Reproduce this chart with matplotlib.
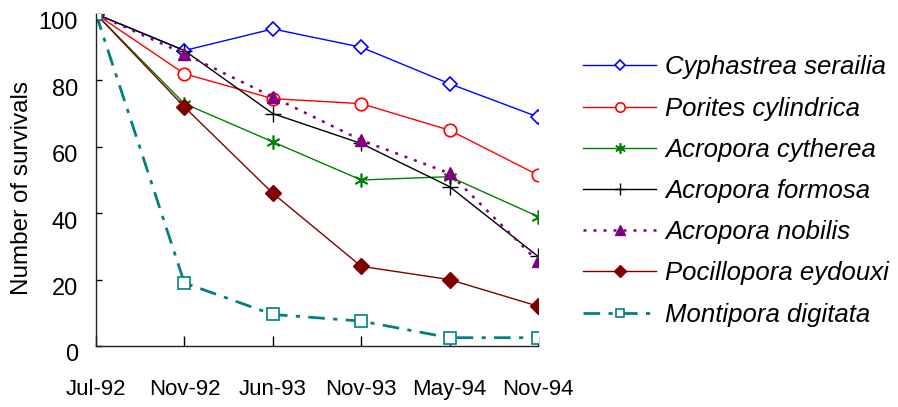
import numpy as np
import matplotlib
matplotlib.use("Agg")
import matplotlib.pyplot as plt
import matplotlib.transforms as mtransforms

plt.rcParams['font.family'] = ['Liberation Sans', 'DejaVu Sans']

# dates on the x axis
months = ['Jul-92', 'Nov-92', 'Jun-93', 'Nov-93', 'May-94', 'Nov-94']

# number of survivals
cyphastrea = [100, 89, 95.5, 90, 79, 69]
porites = [100, 82, 74.5, 73, 65, 51.5]
acro_cytherea = [100, 73, 61.5, 50, 51, 39]
acro_formosa = [100, 89, 70, 61, 48, 27]
acro_nobilis = [100, 88, 75, 62, 52, 25.5]
pocillopora = [100, 72, 46, 24, 20, 12]
montipora = [100, 19, 9.5, 7.5, 2.5, 2.5]

fig = plt.figure(figsize=(8.98, 4.07), dpi=100)
ax = fig.add_axes([96 / 898, 1 - 346 / 407, 442 / 898, 332 / 407])

ax.plot(months, cyphastrea, color='#0000ff', lw=1.0, marker='D', ms=7,
        mfc='white', mec='#0000ff', mew=1.2, label='Cyphastrea serailia')
ax.plot(months, porites, color='#ff0000', lw=1.0, marker='o', ms=9,
        mfc='white', mec='#ff0000', mew=1.2, label='Porites cylindrica')
ax.plot(months, acro_cytherea, color='#008000', lw=1.0, marker=(6, 2, 0), ms=10,
        mec='#008000', mew=1.2, label='Acropora cytherea')
ax.plot(months, acro_formosa, color='black', lw=1.0, marker='+', ms=11,
        mec='black', mew=1.0, label='Acropora formosa')
ax.plot(months, acro_nobilis, color='#800080', lw=1.8, ls=(0, (1.2, 2.8)),
        marker='^', ms=9, mfc='#800080', mec='#800080', label='Acropora nobilis')
ax.plot(months, pocillopora, color='#800000', lw=1.0, marker='D', ms=8,
        mfc='#800000', mec='#800000', label='Pocillopora eydouxi')
ax.plot(months, montipora, color='#008080', lw=2, ls=(0, (6, 3, 1.5, 3)),
        marker='s', ms=8, mfc='white', mec='#008080', mew=1.2,
        label='Montipora digitata')

ax.set_xlim(0, 5)
ax.set_ylim(0, 100)
ax.set_yticks(np.arange(0, 101, 20))
ax.spines['top'].set_visible(False)
ax.spines['right'].set_visible(False)
for s in ['left', 'bottom']:
    ax.spines[s].set_linewidth(1)
    ax.spines[s].set_color('#222222')
ax.tick_params(axis='x', direction='in', length=7, width=1, pad=24, labelsize=16)
ax.tick_params(axis='y', direction='in', length=4, width=1, pad=13, labelsize=17)

# y tick labels sit a little below their ticks in the original
shift = mtransforms.ScaledTranslation(0, -5 / 72, fig.dpi_scale_trans)
for lab in ax.get_yticklabels():
    lab.set_transform(lab.get_transform() + shift)

fig.text(22 / 898, 1 - 188 / 407, 'Number of survivals', rotation=90,
         ha='center', va='center', fontsize=17.5)

fig.legend(loc='center left', bbox_to_anchor=(583 / 898, 1 - 191 / 407),
           frameon=False, prop={'style': 'italic', 'size': 18.5},
           handlelength=2.85, handletextpad=0.35, labelspacing=0.67,
           markerscale=0.75, borderpad=0, borderaxespad=0)

fig.savefig('out.png', dpi=100)
